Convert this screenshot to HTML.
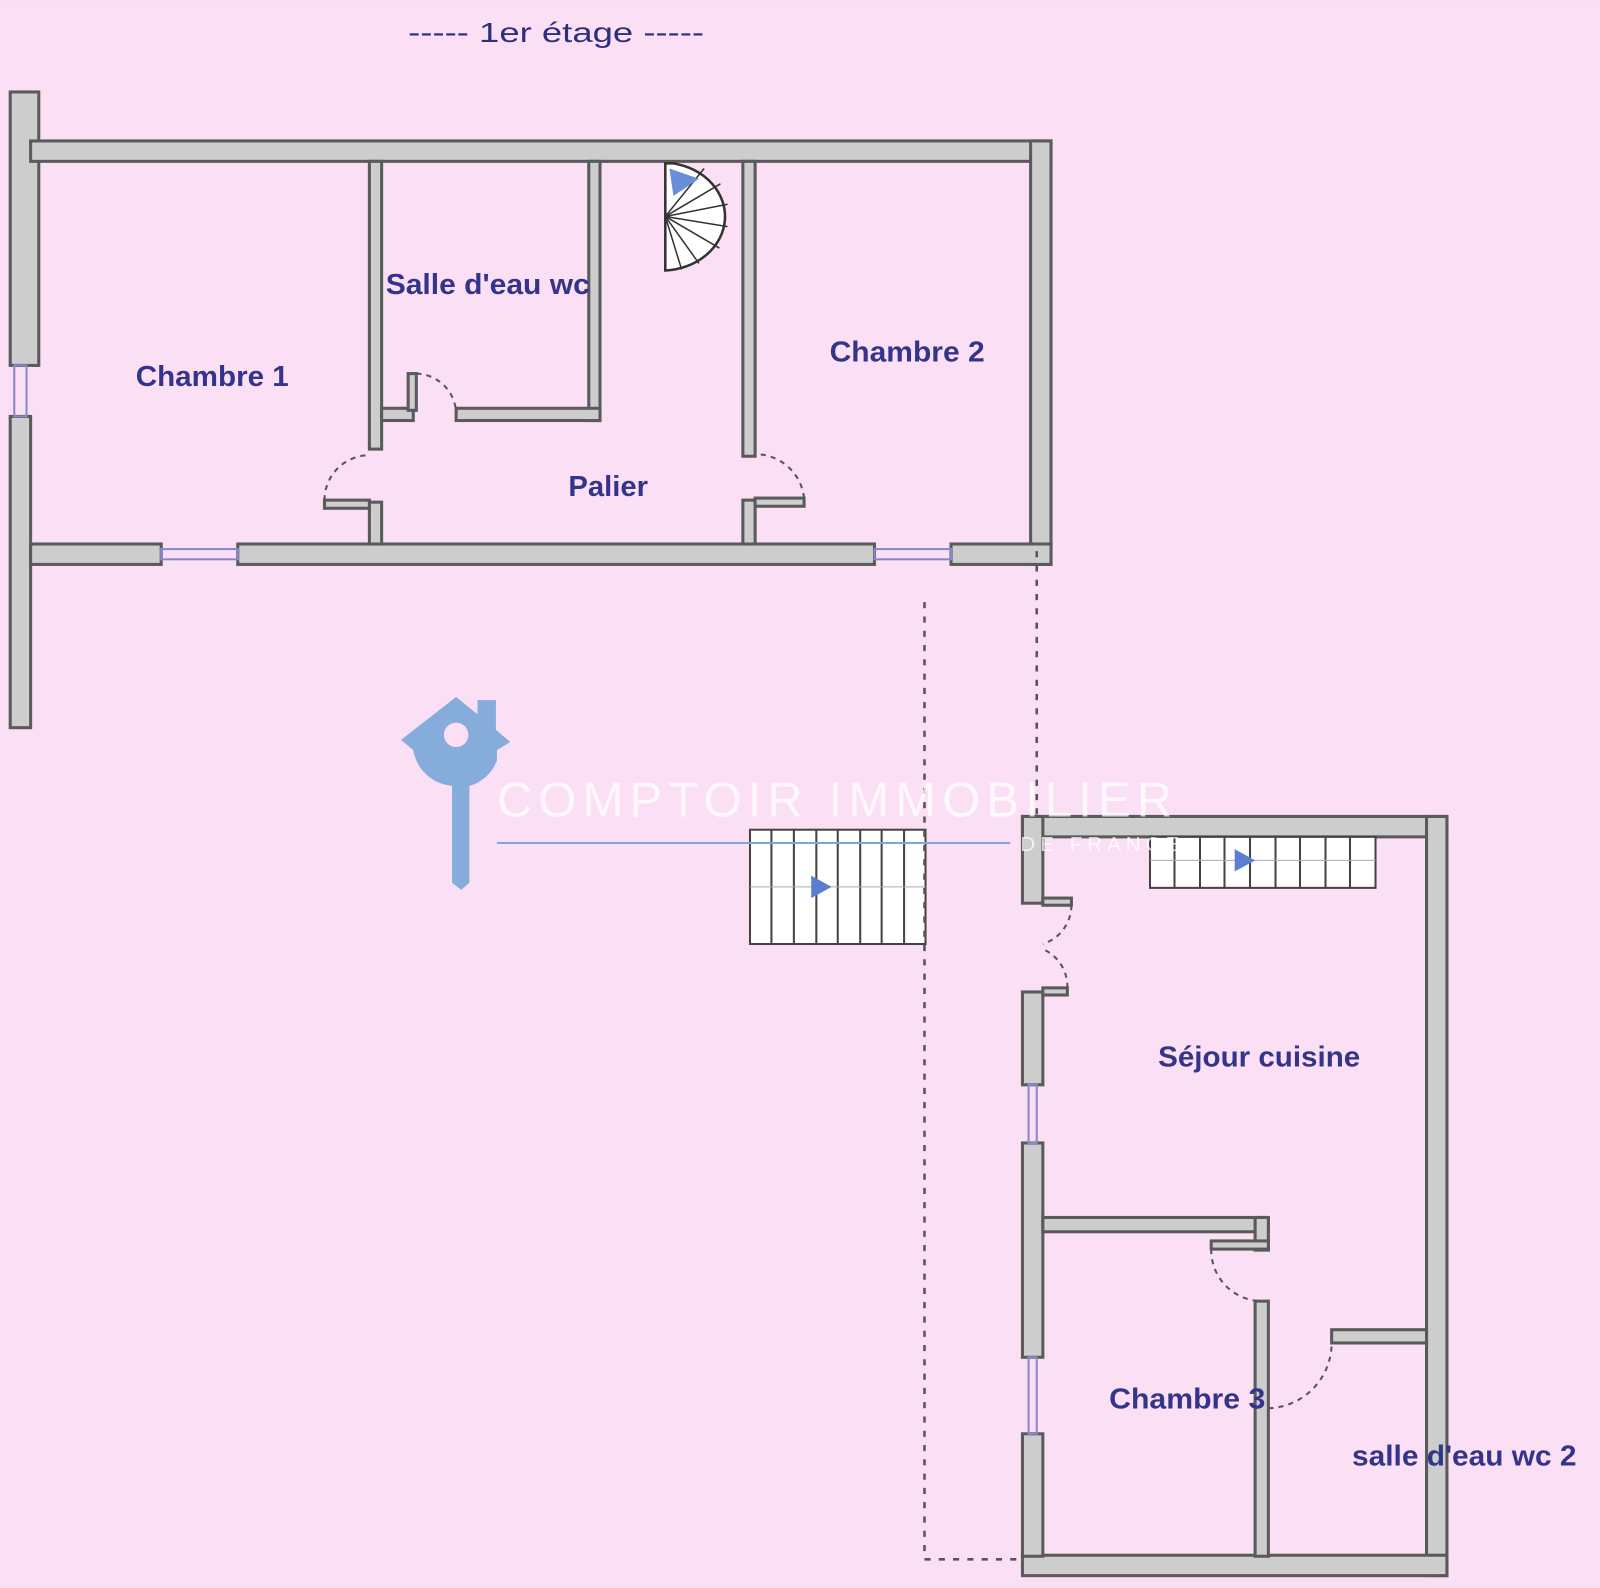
<!DOCTYPE html>
<html><head><meta charset="utf-8"><style>
html,body{margin:0;padding:0;background:#fbdff4;}
svg{display:block}
text{font-family:"Liberation Sans",sans-serif;}
</style></head><body>
<svg width="1600" height="1588" viewBox="0 0 1568 1556" xmlns="http://www.w3.org/2000/svg">
<rect width="1568" height="1556" fill="#fbdff4"/>
<text x="400" y="41" font-size="27" fill="#2e2e80" textLength="290" lengthAdjust="spacingAndGlyphs">----- 1er étage -----</text>
<g fill="#cdcdcd" stroke="#5a5a5a" stroke-width="3">
<rect x="10" y="90" width="28" height="268"/>
<rect x="10" y="408" width="20" height="305"/>
<rect x="30" y="138" width="1000" height="20"/>
<rect x="1010" y="138" width="20" height="415"/>
<rect x="30" y="533" width="128" height="20"/>
<rect x="233" y="533" width="624" height="20"/>
<rect x="932" y="533" width="98" height="20"/>
<rect x="362" y="158" width="12" height="282"/>
<rect x="362" y="492" width="12" height="41"/>
<rect x="577" y="158" width="11" height="254"/>
<rect x="374" y="400" width="31" height="12"/>
<rect x="447" y="400" width="141" height="12"/>
<rect x="728" y="158" width="12" height="289"/>
<rect x="728" y="490" width="12" height="43"/>
<rect x="318" y="490" width="44" height="8"/>
<rect x="400" y="366" width="8" height="36"/>
<rect x="740" y="488" width="48" height="8"/>
<rect x="1002" y="800" width="416" height="20"/>
<rect x="1398" y="800" width="20" height="744"/>
<rect x="1002" y="1524" width="416" height="20"/>
<rect x="1002" y="800" width="20" height="85"/>
<rect x="1002" y="972" width="20" height="91"/>
<rect x="1002" y="1120" width="20" height="210"/>
<rect x="1002" y="1405" width="20" height="120"/>
<rect x="1022" y="1193" width="221" height="14"/>
<rect x="1230" y="1193" width="13" height="32"/>
<rect x="1230" y="1275" width="13" height="250"/>
<rect x="1305" y="1303" width="93" height="13"/>
<rect x="1187" y="1216" width="56" height="8"/>
<rect x="1022" y="880" width="28" height="7"/>
<rect x="1022" y="968" width="24" height="7"/>
</g>
<g fill="none" stroke="#8888cc" stroke-width="2">
<rect x="14" y="358" width="12" height="50"/>
<rect x="158" y="538" width="75" height="10"/>
<rect x="857" y="538" width="75" height="10"/>
<rect x="1008" y="1063" width="8" height="57"/>
<rect x="1008" y="1330" width="8" height="75"/>
</g>
<g fill="none" stroke="#555" stroke-width="2" stroke-dasharray="5,5">
<path d="M318 490 A44 44 0 0 1 362 446"/>
<path d="M408 366 A40 40 0 0 1 447 406"/>
<path d="M788 488 A48 48 0 0 0 740 445"/>
<path d="M1187 1224 A50 50 0 0 0 1237 1275"/>
<path d="M1243 1380 A64 64 0 0 0 1305 1316"/>
<path d="M1050 887 A40 40 0 0 1 1022 925"/>
<path d="M1046 968 A40 40 0 0 0 1022 930"/>
</g>
<g stroke="#333" stroke-width="2.5" fill="#fff">
<path d="M652 160 L660 160 A62 53 0 0 1 652 265 Z"/>
<g stroke-width="1.5">
<line x1="652" y1="212" x2="713" y2="200"/><line x1="652" y1="212" x2="706" y2="180"/>
<line x1="652" y1="212" x2="690" y2="165"/><line x1="652" y1="212" x2="713" y2="222"/>
<line x1="652" y1="212" x2="705" y2="243"/><line x1="652" y1="212" x2="685" y2="258"/>
<line x1="652" y1="212" x2="668" y2="264"/>
</g></g>
<path d="M656 165 L685 175 L660 192 Z" fill="#6a8ed8"/>
<g stroke="#444" stroke-width="2" fill="#fff">
<rect x="735" y="813" width="172" height="112"/>
<path d="M756 813V925M778 813V925M800 813V925M821 813V925M843 813V925M864 813V925M886 813V925" fill="none"/>
<line x1="735" y1="869" x2="907" y2="869" stroke="#aab" stroke-width="1"/>
</g>
<path d="M795 858 L815 869 L795 880 Z" fill="#5a7ed0"/>
<g stroke="#444" stroke-width="2" fill="#fff">
<rect x="1127" y="820" width="221" height="50"/>
<path d="M1151 820V870M1176 820V870M1200 820V870M1225 820V870M1250 820V870M1274 820V870M1299 820V870M1323 820V870" fill="none"/>
<line x1="1127" y1="843" x2="1348" y2="843" stroke="#aab" stroke-width="1"/>
</g>
<path d="M1210 832 L1230 843 L1210 854 Z" fill="#5a7ed0"/>
<g stroke="#555" stroke-width="2.5" stroke-dasharray="6,8" fill="none">
<path d="M906 590 V1528 H1002"/>
<path d="M1016 540 V800"/>
</g>
<g fill="#86acdc">
<path d="M393 725 L447 683 L468 700 V686 H486 V715 L500 727 L487 735 V745 A40 40 0 0 1 460 770 V865 L452 872 L443 865 V770 A42 42 0 0 1 405 735 Z"/>
</g>
<circle cx="447" cy="720" r="12" fill="#fbdff4"/>
<text x="487" y="800" font-size="48" fill="#ffffff" fill-opacity="0.75" letter-spacing="6">COMPTOIR IMMOBILIER</text>
<line x1="487" y1="826" x2="990" y2="826" stroke="#7fa6dc" stroke-width="2"/>
<text x="1000" y="834" font-size="20" fill="#ffffff" fill-opacity="0.75" letter-spacing="5">DE FRANCE</text>
<g fill="#34348a" font-size="28" font-weight="bold" lengthAdjust="spacingAndGlyphs">
<text x="133" y="378" textLength="150" lengthAdjust="spacingAndGlyphs">Chambre 1</text>
<text x="378" y="288" textLength="200" lengthAdjust="spacingAndGlyphs">Salle d'eau wc</text>
<text x="813" y="354" textLength="152" lengthAdjust="spacingAndGlyphs">Chambre 2</text>
<text x="557" y="486" textLength="78" lengthAdjust="spacingAndGlyphs">Palier</text>
<text x="1135" y="1045" textLength="198" lengthAdjust="spacingAndGlyphs">Séjour cuisine</text>
<text x="1087" y="1380" textLength="153" lengthAdjust="spacingAndGlyphs">Chambre 3</text>
<text x="1325" y="1436" textLength="220" lengthAdjust="spacingAndGlyphs">salle d'eau wc 2</text>
</g>
</svg>
</body></html>
